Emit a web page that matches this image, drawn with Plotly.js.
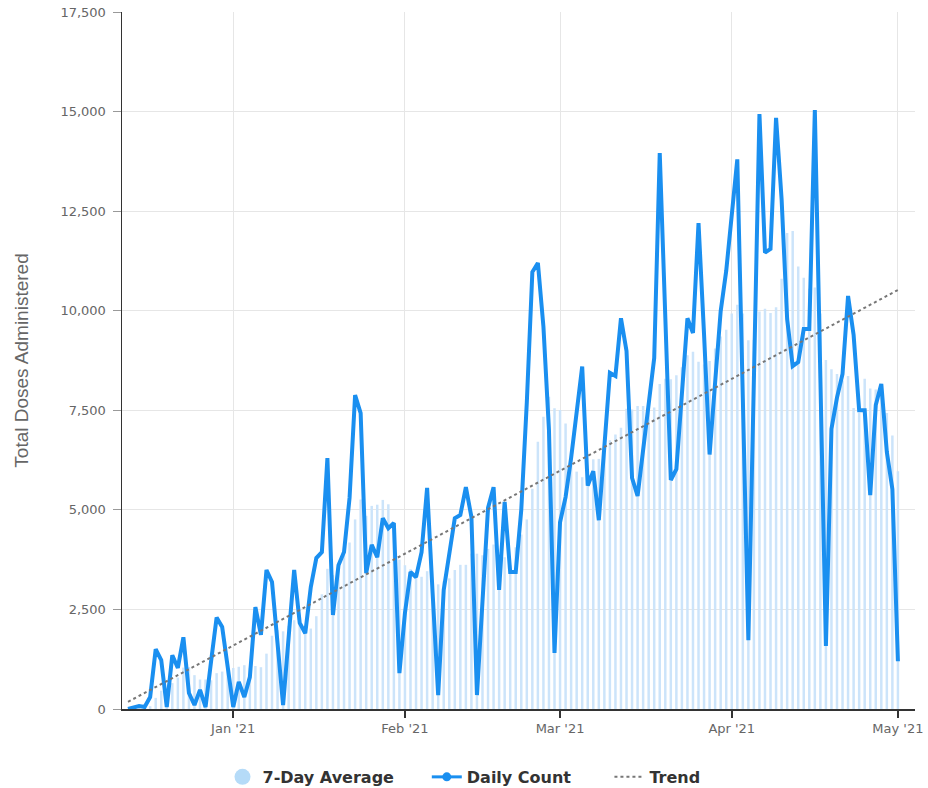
<!DOCTYPE html>
<html><head><meta charset="utf-8">
<script src="https://cdn.plot.ly/plotly-3.0.1.min.js"></script>
<style>html,body{margin:0;padding:0;background:#fff}#chart{width:928px;height:788px}</style>
</head><body><div id="chart"></div>
<script>
// First day of the series (one value per consecutive day)
const startDate = '2020-12-13';

// Daily Count (doses per day)
const dailyCount = [
  0, 50, 75, 50, 300, 1500, 1230, 50, 1350, 1030,
  1800, 400, 100, 480, 50, 1200, 2300, 2060, 1100, 50,
  680, 300, 800, 2560, 1860, 3490, 3190, 1650, 100, 1800,
  3490, 2160, 1900, 3060, 3790, 3940, 6300, 2360, 3610, 3940,
  5300, 7880, 7430, 3410, 4120, 3810, 4790, 4540, 4670, 900,
  2410, 3440, 3310, 3940, 5550, 2900, 350, 2990, 3900, 4790,
  4870, 5570, 4820, 350, 2700, 5050, 5570, 2990, 5200, 3440,
  3440, 5000, 7700, 10970, 11200, 9600, 7000, 1410, 4690, 5320,
  6300, 7400, 8600, 5610, 5970, 4740, 6500, 8440, 8360, 9810,
  8990, 5800, 5350, 6500, 7700, 8810, 13960, 9900, 5750, 6020,
  7900, 9810, 9440, 12200, 9400, 6390, 8200, 9990, 11000, 12300,
  13800, 7800, 1730, 8300, 14940, 11460, 11550, 14840, 12800, 9790,
  8610, 8710, 9540, 9540, 15040, 8300, 1580, 7030, 7820, 8410,
  10370, 9390, 7500, 7500, 5370, 7630, 8160, 6450, 5520, 1200
];

// 7-Day Average bars
const sevenDayAverage = [
  0, 10, 20, 30, 70, 280, 460, 470, 650, 790,
  1040, 1050, 850, 740, 740, 720, 900, 940, 1040, 1030,
  1060, 1100, 1040, 1080, 1050, 1390, 1840, 1980, 1950, 2090,
  2230, 2270, 2040, 2020, 2330, 2880, 3520, 3360, 3570, 3860,
  4180, 4760, 5260, 4850, 5100, 5130, 5250, 5140, 4680, 3750,
  3610, 3510, 3440, 3320, 3460, 3210, 3130, 3210, 3280, 3490,
  3620, 3620, 3900, 3900, 3860, 4020, 4130, 3860, 3810, 3610,
  4060, 4380, 4760, 5530, 6710, 7340, 7840, 7550, 7510, 7170,
  6500, 5960, 5820, 5620, 6270, 6280, 6450, 6750, 6890, 7060,
  7540, 7520, 7610, 7610, 7500, 7570, 8160, 8290, 8280, 8380,
  8580, 8880, 8970, 8720, 8650, 8740, 9050, 9350, 9520, 9930,
  10150, 9930, 9260, 9270, 9980, 10050, 9940, 10090, 10800, 11950,
  12000, 11110, 10830, 10550, 10580, 9930, 8760, 8530, 8410, 8250,
  8360, 7560, 7440, 8290, 8050, 8020, 7990, 7430, 6870, 5970
];

// Trend line end points
const trendDates = ['2020-12-13', '2021-05-01'];
const trendValues = [180, 10520];

// Axis ticks
const monthTicks = ['2021-01-01', '2021-02-01', '2021-03-01', '2021-04-01', '2021-05-01'];
const monthLabels = ["Jan '21", "Feb '21", "Mar '21", "Apr '21", "May '21"];
const yTicks = [0, 2500, 5000, 7500, 10000, 12500, 15000, 17500];

function dayList(start, n) {
  const out = [];
  const t0 = Date.parse(start + 'T00:00:00Z');
  for (let i = 0; i < n; i++) out.push(new Date(t0 + i * 86400000).toISOString().slice(0, 10));
  return out;
}
const dates = dayList(startDate, dailyCount.length);

const LINE = '#1a8ff0';
const BAR = '#cce4fa';
const DAY = 86400000;
const GAP1 = '\u00a0\u00a0\u00a0\u00a0\u00a0';
const GAP2 = '\u00a0\u00a0\u00a0\u00a0\u00a0\u00a0';

const traces = [
  { type: 'bar', x: dates, y: sevenDayAverage, name: '7-Day Average', showlegend: false,
    width: 0.45 * DAY, marker: { color: BAR, line: { width: 0 } }, hoverinfo: 'skip' },
  { type: 'scatter', mode: 'lines', x: dates, y: dailyCount, name: 'Daily Count', showlegend: false,
    line: { color: LINE, width: 4 }, hoverinfo: 'skip' },
  { type: 'scatter', mode: 'markers', x: [null], y: [null], name: '7-Day Average' + GAP1,
    marker: { color: '#b5dbf8', size: 16, symbol: 'circle' } },
  { type: 'scatter', mode: 'lines+markers', x: [null], y: [null], name: 'Daily Count' + GAP2,
    line: { color: LINE, width: 3 }, marker: { color: LINE, size: 9 } },
  { type: 'scatter', mode: 'lines', x: trendDates, y: trendValues, name: 'Trend',
    line: { color: '#777777', width: 2, dash: 'dot' }, hoverinfo: 'skip' }
];

const layout = {
  width: 928, height: 788,
  margin: { l: 122, r: 13, t: 12, b: 79 },
  paper_bgcolor: '#ffffff', plot_bgcolor: '#ffffff',
  font: { family: 'DejaVu Sans, sans-serif', color: '#666666', size: 13 },
  barmode: 'overlay',
  showlegend: true,
  legend: {
    orientation: 'h', xref: 'container', yref: 'container',
    x: 0.5, xanchor: 'center', y: 0.014, yanchor: 'middle',
    font: { family: 'DejaVu Sans, sans-serif', size: 16, color: '#333333', weight: 'bold' },
    itemsizing: 'trace', traceorder: 'normal'
  },
  xaxis: {
    type: 'date',
    range: ['2020-12-11 22:00', '2021-05-04 02:00'],
    tickvals: monthTicks, ticktext: monthLabels,
    showgrid: true, gridcolor: '#e6e6e6', gridwidth: 1,
    showline: true, linecolor: '#333333', linewidth: 1.5,
    ticks: 'outside', ticklen: 7, tickcolor: '#333333', tickwidth: 1.5,
    tickfont: { family: 'DejaVu Sans, sans-serif', size: 13, color: '#666666' },
    zeroline: false, fixedrange: true
  },
  yaxis: {
    range: [0, 17500],
    tickvals: yTicks, tickformat: ',d',
    showgrid: true, gridcolor: '#e6e6e6', gridwidth: 1,
    showline: true, linecolor: '#333333', linewidth: 1.5,
    ticks: 'outside', ticklen: 8, tickcolor: '#999999', tickwidth: 1,
    ticklabelstandoff: 4,
    tickfont: { family: 'DejaVu Sans, sans-serif', size: 13, color: '#666666' },
    title: { text: 'Total Doses Administered', standoff: 27,
      font: { family: 'Liberation Sans, Arial, sans-serif', size: 19, color: '#666666' } },
    zeroline: false, fixedrange: true
  },
  hovermode: false
};

Plotly.newPlot('chart', traces, layout, { displayModeBar: false, staticPlot: true });
</script>
</body></html>
